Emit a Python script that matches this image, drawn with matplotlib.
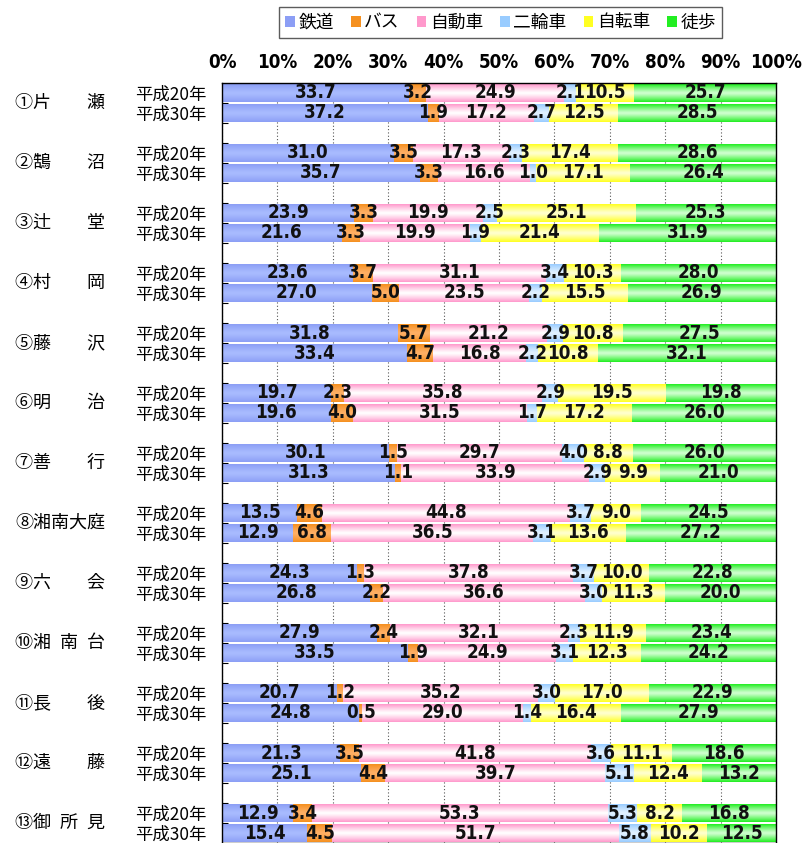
import numpy as np
import matplotlib
matplotlib.use('Agg')
import matplotlib.pyplot as plt
from matplotlib.patches import Patch
from matplotlib.colors import to_rgb

modes = ['鉄道', 'バス', '自動車', '二輪車', '自転車', '徒歩']
areas = ['①片\u3000\u3000瀬', '②鵠\u3000\u3000沼', '③辻\u3000\u3000堂', '④村\u3000\u3000岡',
         '⑤藤\u3000\u3000沢', '⑥明\u3000\u3000治', '⑦善\u3000\u3000行', '⑧湘南大庭',
         '⑨六\u3000\u3000会', '⑩湘\u2002南\u2002台', '⑪長\u3000\u3000後', '⑫遠\u3000\u3000藤',
         '⑬御\u2002所\u2002見']
years = ['平成20年', '平成30年']
xticks = [0, 10, 20, 30, 40, 50, 60, 70, 80, 90, 100]

rail_h20  = [33.7, 31.0, 23.9, 23.6, 31.8, 19.7, 30.1, 13.5, 24.3, 27.9, 20.7, 21.3, 12.9]
rail_h30  = [37.2, 35.7, 21.6, 27.0, 33.4, 19.6, 31.3, 12.9, 26.8, 33.5, 24.8, 25.1, 15.4]
bus_h20   = [3.2, 3.5, 3.3, 3.7, 5.7, 2.3, 1.5, 4.6, 1.3, 2.4, 1.2, 3.5, 3.4]
bus_h30   = [1.9, 3.3, 3.3, 5.0, 4.7, 4.0, 1.1, 6.8, 2.2, 1.9, 0.5, 4.4, 4.5]
car_h20   = [24.9, 17.3, 19.9, 31.1, 21.2, 35.8, 29.7, 44.8, 37.8, 32.1, 35.2, 41.8, 53.3]
car_h30   = [17.2, 16.6, 19.9, 23.5, 16.8, 31.5, 33.9, 36.5, 36.6, 24.9, 29.0, 39.7, 51.7]
moto_h20  = [2.1, 2.3, 2.5, 3.4, 2.9, 2.9, 4.0, 3.7, 3.7, 2.3, 3.0, 3.6, 5.3]
moto_h30  = [2.7, 1.0, 1.9, 2.2, 2.2, 1.7, 2.9, 3.1, 3.0, 3.1, 1.4, 5.1, 5.8]
bike_h20  = [10.5, 17.4, 25.1, 10.3, 10.8, 19.5, 8.8, 9.0, 10.0, 11.9, 17.0, 11.1, 8.2]
bike_h30  = [12.5, 17.1, 21.4, 15.5, 10.8, 17.2, 9.9, 13.6, 11.3, 12.3, 16.4, 12.4, 10.2]
walk_h20  = [25.7, 28.6, 25.3, 28.0, 27.5, 19.8, 26.0, 24.5, 22.8, 23.4, 22.9, 18.6, 16.8]
walk_h30  = [28.5, 26.4, 31.9, 26.9, 32.1, 26.0, 21.0, 27.2, 20.0, 24.2, 27.9, 13.2, 12.5]

series = [(rail_h20, rail_h30), (bus_h20, bus_h30), (car_h20, car_h30),
          (moto_h20, moto_h30), (bike_h20, bike_h30), (walk_h20, walk_h30)]

edge_cols = ['#8c9ef5', '#f5901f', '#ff99cc', '#99ccff', '#ffff22', '#22ee22']
mid_cols  = ['#a9bcff', '#ffb066', '#ffffff', '#e2f2ff', '#ffffd0', '#d0ffd0']

JP = ['Noto Sans CJK JP', 'DejaVu Sans']
NUM = ['DejaVu Sans']

fig = plt.figure(figsize=(8.05, 8.43), dpi=100)
W, H = 805, 843
ax = fig.add_axes([222 / W, 0, (776 - 222) / W, (843 - 83) / H])

pos = np.array([3 * g + k for g in range(len(areas)) for k in (0, 1)], dtype=float)


def gradient(edge, mid, n=40):
    t = np.abs(np.linspace(-1, 1, n)) ** 1.2
    e = np.array(to_rgb(edge)); m = np.array(to_rgb(mid))
    g = m[None, :] * (1 - t[:, None]) + e[None, :] * t[:, None]
    return g[:, None, :]


left = np.zeros(len(pos))
handles = []
for i, mode in enumerate(modes):
    h20, h30 = series[i]
    vals = np.array([v for pair in zip(h20, h30) for v in pair])
    bc = ax.barh(pos, vals, left=left, height=0.88, color=edge_cols[i],
                 edgecolor='none', zorder=2)
    grad = gradient(edge_cols[i], mid_cols[i])
    for p in bc.patches:
        x0, y0, w, h = p.get_x(), p.get_y(), p.get_width(), p.get_height()
        ax.imshow(grad, extent=(x0, x0 + w, y0, y0 + h), aspect='auto',
                  interpolation='bilinear', zorder=2.5)
    ax.bar_label(bc, labels=[f'{v:.1f}' for v in vals], label_type='center',
                 fontsize=13.5, family=NUM, fontstretch='condensed', fontweight='bold',
                 color='#111111', zorder=4)
    left += vals
    handles.append(Patch(facecolor=edge_cols[i], edgecolor='none', label=mode))

ax.set_xlim(0, 100)
ax.set_ylim(37.5, -0.5)
ax.set_aspect('auto')

ax.xaxis.tick_top()
ax.set_xticks(xticks)
ax.set_xticklabels([f'{v}%' for v in xticks], family=NUM, fontstretch='condensed',
                   fontsize=13.5, fontweight='bold')
ax.tick_params(axis='x', length=0, pad=8)

ax.set_yticks(pos)
ax.set_yticklabels(years * len(areas), family=JP, fontsize=12.5)
ax.tick_params(axis='y', which='major', length=0, pad=11)
ax.set_yticks(np.arange(0.5, 37.5, 1.0), minor=True)
ax.tick_params(axis='y', which='minor', direction='in', length=4, width=0.8, color='black')

ax.grid(axis='x', color='#555555', linestyle=(0, (1, 2)), linewidth=0.8)
ax.set_axisbelow(True)
for s in ax.spines.values():
    s.set_color('black'); s.set_linewidth(1.0)

for g, name in enumerate(areas):
    ax.text((15 - 222) / 554, 3 * g + 0.5, name, transform=ax.get_yaxis_transform(),
            ha='left', va='center', family=JP, fontsize=13)

leg = fig.legend(handles=handles, loc='center', bbox_to_anchor=(500.5 / W, 1 - 22.5 / H),
                 ncol=6, frameon=True, fancybox=False, prop={'family': JP, 'size': 12.8},
                 handlelength=0.55, handleheight=0.55, handletextpad=0.2, columnspacing=0.95,
                 borderpad=0.35, edgecolor='#333333')
leg.get_frame().set_linewidth(1.0)

fig.savefig('out.png', dpi=100)
